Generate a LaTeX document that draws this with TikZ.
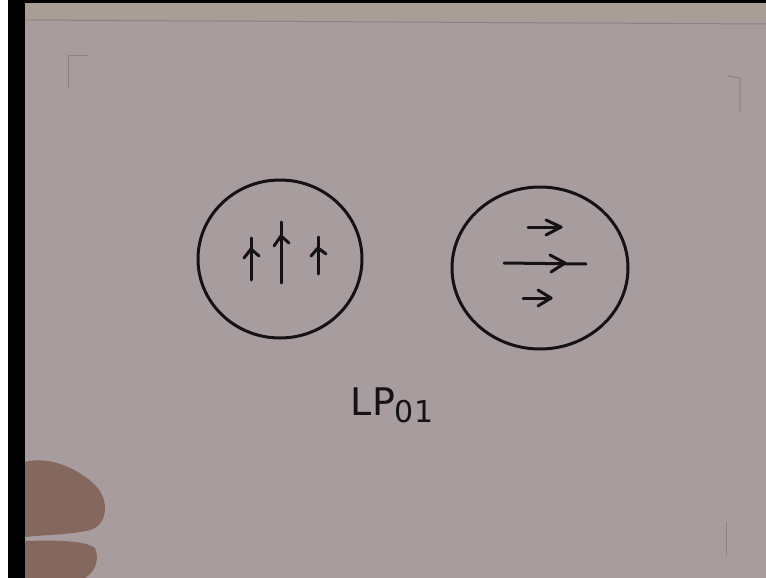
\documentclass[tikz,border=0pt]{standalone}
\usepackage{fontspec}
\setmainfont{DejaVu Sans}
\usetikzlibrary{shapes.geometric}
\definecolor{paper}{RGB}{167,156,158}
\definecolor{paperedge}{RGB}{168,158,150}
\definecolor{ink}{RGB}{20,18,18}
\definecolor{faint}{RGB}{140,130,132}
\definecolor{skin}{RGB}{132,104,94}
\begin{document}
\begin{tikzpicture}[x=1pt,y=-1pt,
  pen/.style={draw=ink,line width=3pt,line cap=round,line join=round},
  cornermark/.style={draw=faint,line width=1pt}]
\useasboundingbox (0,0) rectangle (766,578);
\fill[white] (0,0) rectangle (766,578);
\fill[black] (8,0) rectangle (766,578);
\fill[paper] (25,3) rectangle (766,578);
\fill[paperedge] (25,3) rectangle (766,20);
\draw[draw=faint,line width=1pt] (25,20) -- (766,24);
% corner marks
\draw[cornermark] (68,88) -- (68,56) -- (88,56);
\draw[cornermark] (728,76) -- (740,78) -- (740,112);
\draw[cornermark] (726,522) -- (726,556);
% hand (photo)
\fill[skin] (25,462) .. controls (50,455) and (80,470) .. (95,485) .. controls (110,500) and (108,525) .. (90,530) .. controls (70,535) and (40,535) .. (25,537) -- cycle;
\fill[skin] (25,541) .. controls (50,540) and (85,540) .. (95,548) .. controls (100,560) and (95,572) .. (85,578) -- (25,578) -- cycle;
% left circle: polarised vertically
\node[pen,ellipse,minimum width=164pt,minimum height=158pt,inner sep=0pt,fill=none] (lc) at (280,259) {};
\coordinate (a1b) at (251,280); \coordinate (a1t) at (251,238);
\coordinate (a2b) at (281,283); \coordinate (a2t) at (281,222);
\coordinate (a3b) at (318,274); \coordinate (a3t) at (318,237);
\draw[pen] (a1b) -- (a1t);
\draw[pen] (a2b) -- (a2t);
\draw[pen] (a3b) -- (a3t);
\draw[pen] (244,258) -- (251,249) -- (259,256);
\draw[pen] (274,246) -- (281,236) -- (289,243);
\draw[pen] (311,256) -- (318,248) -- (326,254);
% right circle: polarised horizontally
\node[pen,ellipse,minimum width=176pt,minimum height=162pt,inner sep=0pt,fill=none] (rc) at (540,268) {};
\coordinate (b1l) at (528,227); \coordinate (b1r) at (561,227);
\coordinate (b2l) at (504,263); \coordinate (b2r) at (586,264);
\coordinate (b3l) at (523,298); \coordinate (b3r) at (551,298);
\draw[pen] (b1l) -- (b1r);
\draw[pen] (b2l) -- (b2r);
\draw[pen] (b3l) -- (b3r);
\draw[pen] (546,220) -- (561,227) -- (546,235);
\draw[pen] (550,255) -- (565,263) -- (551,272);
\draw[pen] (538,290) -- (551,298) -- (538,306);
% label
\node[text=ink,font=\fontsize{38}{40}\selectfont,inner sep=0pt] (lbl) at (392,405) {LP\raisebox{-0.35ex}{\fontsize{30}{32}\selectfont 01}};
\end{tikzpicture}
\end{document}
